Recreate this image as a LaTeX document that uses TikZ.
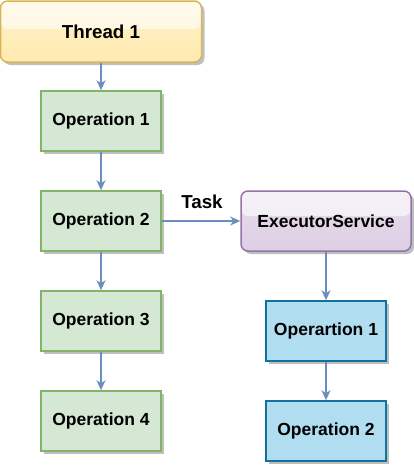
\documentclass[tikz,border=0pt]{standalone}
\usepackage{fontspec}
\setmainfont{Liberation Sans}
\usetikzlibrary{arrows.meta,shadows}
\definecolor{grnfill}{HTML}{D5E8D4}
\definecolor{grnline}{HTML}{82B366}
\definecolor{ylwtop}{HTML}{FFF2CC}
\definecolor{ylwbot}{HTML}{FFEAAE}
\definecolor{ylwline}{HTML}{D6B656}
\definecolor{purtop}{HTML}{E6DCEB}
\definecolor{purbot}{HTML}{DDCFE4}
\definecolor{purline}{HTML}{9673A6}
\definecolor{blufill}{HTML}{B1DDF0}
\definecolor{bluline}{HTML}{10739E}
\definecolor{arrowcol}{HTML}{6C8EBF}
\tikzset{
  box/.style={draw, line width=1.5pt, minimum width=120pt, minimum height=60pt, inner sep=0pt,
    font=\fontsize{17.5}{20}\selectfont\bfseries,
    drop shadow={shadow xshift=3pt, shadow yshift=-3pt, opacity=0.25, fill=black}},
  greenbox/.style={box, fill=grnfill, draw=grnline},
  bluebox/.style={box, fill=blufill, draw=bluline},
  glass/.style={path picture={
    \fill[white, opacity=0.6] ([yshift=2pt]path picture bounding box.north west) rectangle
      ([yshift=-#1]path picture bounding box.north east);}},
  threadbox/.style={box, draw=ylwline, top color=ylwtop, bottom color=ylwbot, rounded corners=7pt,
    minimum width=201pt, minimum height=61pt, font=\fontsize{18.75}{21}\selectfont\bfseries,
    glass=28pt},
  execbox/.style={box, draw=purline, top color=purtop, bottom color=purbot, rounded corners=7pt,
    minimum width=170pt, glass=25pt},
  conn/.style={draw=arrowcol, line width=1.3pt, -{Stealth[length=10pt,width=9pt,inset=3pt]}},
  lbl/.style={font=\fontsize{18.75}{21}\selectfont\bfseries, inner sep=0pt}
}
\begin{document}
\begin{tikzpicture}[x=1pt,y=-1pt]
\useasboundingbox (0,0) rectangle (413,466);
\node[threadbox] (t) at (101,31.5) {Thread 1};
\node[greenbox] (o1) at (101,121) {Operation 1};
\node[greenbox] (o2) at (101,221) {Operation 2};
\node[greenbox] (o3) at (101,321) {Operation 3};
\node[greenbox] (o4) at (101,421) {Operation 4};
\node[execbox] (ex) at (326,221) {ExecutorService};
\node[bluebox] (b1) at (326,331) {Operartion 1};
\node[bluebox] (b2) at (326,431) {Operation 2};
\node[lbl] (task) at (202,202) {Task};
\draw[conn] (t) -- (o1);
\draw[conn] (o1) -- (o2);
\draw[conn] (o2) -- (o3);
\draw[conn] (o3) -- (o4);
\draw[conn] (o2) -- (ex);
\draw[conn] (ex) -- (b1);
\draw[conn] (b1) -- (b2);
\end{tikzpicture}
\end{document}
